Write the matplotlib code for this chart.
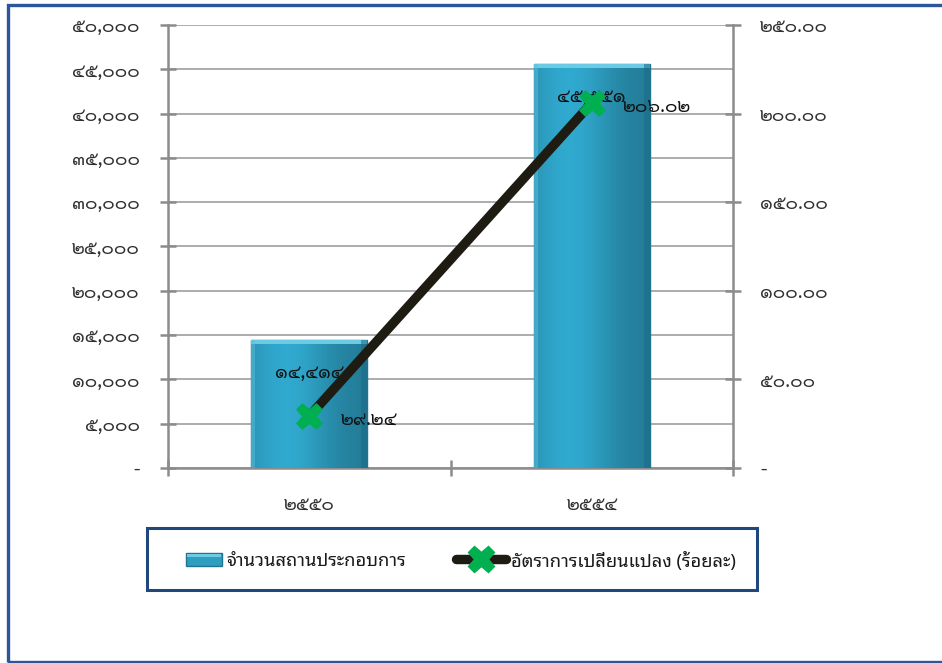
import matplotlib
matplotlib.use("Agg")
import matplotlib.pyplot as plt
from matplotlib.patches import Rectangle
from matplotlib.lines import Line2D
import numpy as np

# ---------------- data ----------------
categories = ['๒๕๕๐', '๒๕๕๔']
establishments = [14414, 45551]
change_rate = [29.24, 206.02]
bar_label = 'จำนวนสถานประกอบการ'
line_label = 'อัตราการเปลี่ยนแปลง (ร้อยละ)'
left_ticks = list(range(0, 50001, 5000))
right_ticks = [0, 50, 100, 150, 200, 250]

NUM_FONT = ['Sarabun', 'Noto Sans Thai Looped', 'DejaVu Sans']
TXT_FONT = ['Noto Sans Thai Looped', 'Sarabun', 'DejaVu Sans']
plt.rcParams['font.family'] = NUM_FONT
plt.rcParams['font.weight'] = 'normal'

THAI_DIGITS = str.maketrans('0123456789', '๐๑๒๓๔๕๖๗๘๙')
def th(s):
    return s.translate(THAI_DIGITS)

W, H = 942, 663
fig = plt.figure(figsize=(W / 100, H / 100), dpi=100)

def fx(px):
    return px / W
def fy(py):
    return 1 - py / H

ax = fig.add_axes([fx(168), fy(468), fx(733) - fx(168), fy(25) - fy(468)])
ax2 = ax.twinx()

x = np.arange(len(categories))
bar_w = 0.41
bars = ax.bar(x, establishments, width=bar_w, color='#2E9DBF', edgecolor='#1E7491',
              linewidth=1.0, zorder=3)

# gradient / bevel on bars
grad = np.linspace(0, 1, 64)
shade = 0.80 + 0.30 * np.exp(-((grad - 0.3) / 0.4) ** 2)
base = np.array([0x2C, 0x9A, 0xBC]) / 255
img = np.clip(base[None, None, :] * shade[None, :, None], 0, 1)
for b in bars:
    x0, y0, bw, bh = b.get_x(), b.get_y(), b.get_width(), b.get_height()
    im = ax.imshow(img, extent=[x0, x0 + bw, y0, y0 + bh], aspect='auto', zorder=3.1,
                   interpolation='bilinear')
    im.set_clip_path(b)
    ax.add_patch(Rectangle((x0, y0 + bh - 450), bw, 450, facecolor='#6CCBE4',
                           edgecolor='none', zorder=3.2))
    ax.add_patch(Rectangle((x0 + bw * 0.95, y0), bw * 0.05, bh, facecolor='#1B6A86',
                           edgecolor='none', alpha=0.55, zorder=3.2))
    ax.add_patch(Rectangle((x0, y0), bw * 0.035, bh, facecolor='#5BBFDC',
                           edgecolor='none', alpha=0.5, zorder=3.2))

ax.set_xlim(-0.5, len(categories) - 0.5)
ax.set_ylim(0, 50000)
ax2.set_ylim(0, 250)

ax.set_yticks(left_ticks)
ax.set_yticklabels(['-' if v == 0 else th(f'{v:,}') for v in left_ticks])
ax2.set_yticks(right_ticks)
ax2.set_yticklabels(['-' if v == 0 else th(f'{v:.2f}') for v in right_ticks])

ax.set_xticks(x)
ax.set_xticklabels(categories)
ax.set_xticks(np.arange(-0.5, len(categories), 1.0), minor=True)

grey = '#8C8C8C'
ax.yaxis.grid(True, color='#A6A6A6', linewidth=1.3, zorder=0)
ax.set_axisbelow(True)
for a in (ax, ax2):
    for s in a.spines.values():
        s.set_color(grey)
        s.set_linewidth(1.8)
    a.spines['top'].set_visible(False)
ax2.spines['left'].set_visible(False)
ax.spines['right'].set_visible(False)
ax2.spines['bottom'].set_visible(False)

tick_fs = 13.5
lab_col = '#303030'
ax.tick_params(axis='y', direction='inout', length=11, width=1.8, color=grey,
               labelsize=tick_fs, pad=15, labelcolor=lab_col)
ax2.tick_params(axis='y', direction='inout', length=11, width=1.8, color=grey,
                labelsize=tick_fs, pad=14, labelcolor=lab_col)
ax.tick_params(axis='x', which='major', length=0, labelsize=tick_fs, pad=20,
               labelcolor=lab_col)
ax.tick_params(axis='x', which='minor', direction='inout', length=11, width=1.8, color=grey)

# line on secondary axis
ax2.plot(x, change_rate, color='#1E1B12', linewidth=6.8, solid_capstyle='round',
         marker='X', markersize=19, markerfacecolor='#00B050', markeredgecolor='#00B050',
         markeredgewidth=0.5, zorder=5)
ax2.set_zorder(ax.get_zorder() + 1)
ax2.patch.set_visible(False)

# data labels
for xi, v in zip(x, establishments):
    ax.annotate(th(f'{v:,}'), (xi, v), xytext=(0, -32), textcoords='offset pixels',
                ha='center', va='center', fontsize=tick_fs, color='#111111', zorder=6)
for xi, v in zip(x, change_rate):
    ax2.annotate(th(f'{v:.2f}'), (xi, v), xytext=(31, -4), textcoords='offset pixels',
                 ha='left', va='center', fontsize=tick_fs, color='#111111', zorder=6)

# legend box (manual)
fig.patches.append(Rectangle((fx(147), fy(590)), fx(757) - fx(147), fy(528) - fy(590),
                             transform=fig.transFigure, facecolor='white',
                             edgecolor='#1F497D', linewidth=2.2, zorder=1))
fig.patches.append(Rectangle((fx(186), fy(566)), fx(222) - fx(186), fy(553) - fy(566),
                             transform=fig.transFigure, facecolor='#2E9DBF',
                             edgecolor='#1E7491', linewidth=1, zorder=2))
fig.patches.append(Rectangle((fx(187), fy(557)), fx(221) - fx(187), fy(554) - fy(557),
                             transform=fig.transFigure, facecolor='#6CCBE4',
                             edgecolor='none', zorder=3))
fig.text(fx(226), fy(561), bar_label, ha='left', va='center', fontsize=13.2,
         color='#1a1a1a', family=TXT_FONT, weight='normal')
fig.lines.append(Line2D([fx(456), fx(506)], [fy(559), fy(559)], transform=fig.transFigure,
                        color='#1E1B12', linewidth=6.8, solid_capstyle='round', zorder=2))
fig.lines.append(Line2D([fx(481)], [fy(559)], transform=fig.transFigure, marker='X',
                        markersize=19, color='#00B050', markeredgecolor='#00B050',
                        linestyle='none', zorder=3))
fig.text(fx(511), fy(561), line_label, ha='left', va='center', fontsize=13.2,
         color='#1a1a1a', family=TXT_FONT, weight='normal')

# outer border
fig.patches.append(Rectangle((fx(7.5), fy(661.5)), fx(960) - fx(7.5), fy(4.5) - fy(661.5),
                             transform=fig.transFigure, facecolor='none',
                             edgecolor='#2B579A', linewidth=2.4, zorder=0))

fig.savefig('out.png', dpi=100)
